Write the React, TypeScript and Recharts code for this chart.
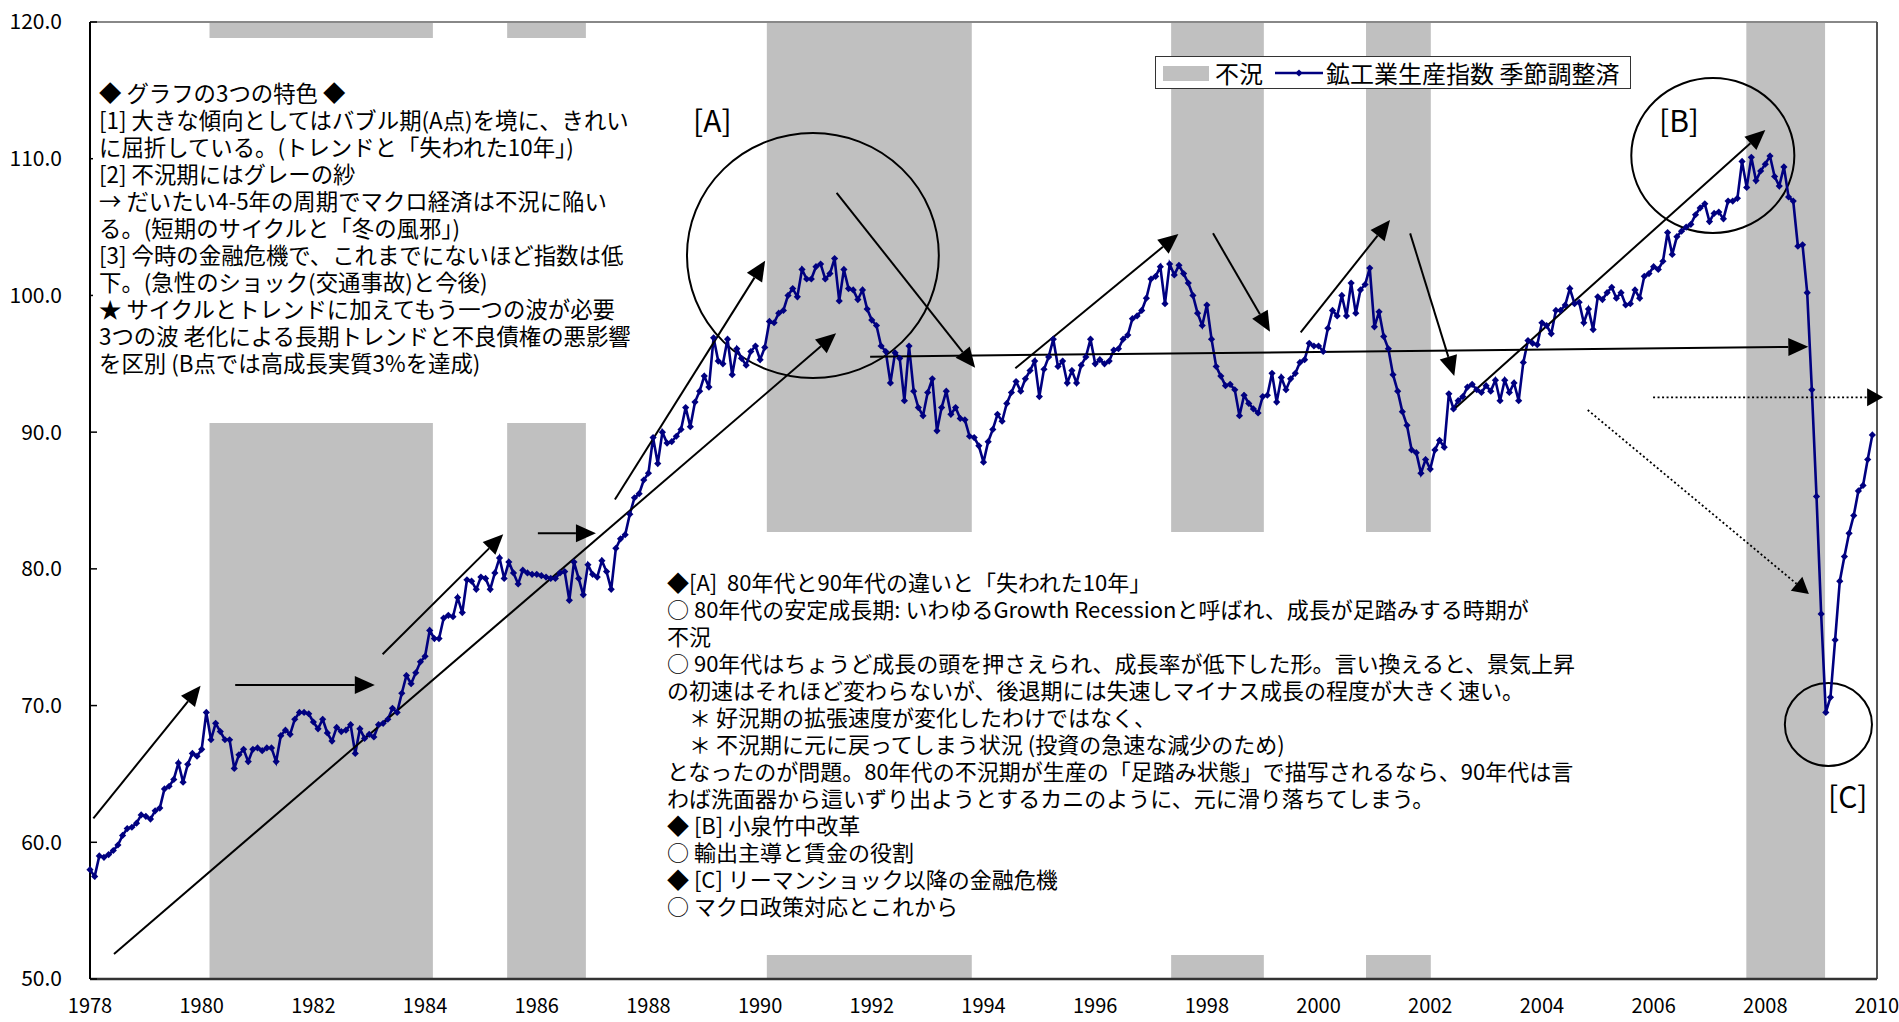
import {
  ComposedChart,
  Line,
  XAxis,
  YAxis,
  ReferenceArea,
  ReferenceLine,
} from "recharts";

// 鉱工業生産指数（季節調整済）monthly, Jan of the first year through Dec of the last
const ip1978_1981 = [
  58.0, 57.5, 59.0, 58.9, 59.1, 59.4, 59.8, 60.5, 61.0, 61.1, 61.4, 62.0,
  61.9, 61.7, 62.3, 62.5, 63.9, 64.1, 64.6, 65.8, 64.4, 65.7, 66.5, 66.3,
  66.8, 69.5, 67.5, 68.7, 68.1, 67.5, 67.5, 65.4, 66.4, 66.8, 65.9, 66.8,
  66.9, 66.7, 66.9, 66.9, 65.9, 67.8, 68.2, 67.9, 69.0, 69.5, 69.5, 69.4,
];
const ip1982_1985 = [
  68.8, 68.3, 69.0, 68.0, 67.4, 68.4, 68.1, 68.2, 68.6, 66.5, 68.3, 67.6,
  67.9, 67.7, 68.6, 68.7, 69.0, 69.8, 69.5, 70.9, 72.2, 71.6, 72.4, 73.2,
  73.6, 75.5, 74.9, 74.9, 76.4, 76.6, 76.5, 77.9, 76.8, 79.2, 79.1, 78.5,
  79.4, 79.3, 78.5, 79.7, 80.8, 79.3, 80.5, 79.7, 78.9, 79.9, 79.7, 79.6,
];
const ip1986_1989 = [
  79.6, 79.5, 79.4, 79.3, 79.3, 79.7, 79.8, 77.7, 80.5, 79.3, 78.1, 80.3,
  79.6, 79.4, 80.6, 79.8, 78.5, 81.5, 82.2, 82.5, 84.0, 85.2, 85.5, 86.5,
  87.0, 89.6, 87.7, 90.0, 89.2, 89.3, 89.7, 90.2, 91.8, 90.4, 92.2, 93.0,
  94.1, 93.3, 96.9, 95.2, 95.0, 96.8, 94.2, 96.1, 95.4, 94.9, 95.9, 96.3,
];
const ip1990_1993 = [
  95.3, 96.2, 98.1, 98.0, 98.7, 98.9, 100.0, 100.5, 99.9, 101.9, 101.2, 101.2,
  102.1, 102.3, 101.2, 101.6, 102.7, 99.6, 101.9, 100.5, 100.4, 99.7, 100.4, 99.0,
  98.2, 97.8, 96.3, 95.9, 93.6, 95.8, 95.4, 92.3, 96.3, 93.0, 91.8, 91.2,
  92.9, 93.9, 90.1, 91.8, 93.0, 91.3, 91.8, 91.0, 90.9, 89.7, 89.6, 89.0,
];
const ip1994_1997 = [
  87.8, 89.3, 90.2, 91.3, 90.8, 92.1, 92.9, 93.7, 93.0, 93.9, 94.5, 95.2,
  92.6, 94.6, 95.5, 96.8, 94.8, 95.2, 93.6, 94.5, 93.6, 94.9, 95.5, 96.8,
  95.0, 95.3, 95.0, 95.2, 96.0, 96.1, 96.8, 97.1, 98.3, 98.5, 98.9, 99.8,
  101.2, 101.4, 102.1, 99.4, 102.3, 101.5, 102.2, 101.6, 100.9, 100.0, 98.7, 97.8,
];
const ip1998_2001 = [
  99.3, 96.8, 94.8, 94.1, 93.4, 93.5, 93.1, 91.2, 92.7, 92.1, 91.7, 91.4,
  92.6, 92.7, 94.3, 92.2, 94.0, 93.1, 93.9, 94.3, 95.1, 95.3, 96.5, 96.3,
  96.3, 95.9, 97.6, 98.9, 98.5, 100.0, 98.5, 100.9, 98.7, 100.4, 100.8, 102.0,
  97.7, 98.8, 97.0, 96.1, 94.2, 93.0, 91.5, 90.5, 88.7, 88.5, 87.0, 88.0,
];
const ip2002_2005 = [
  87.3, 88.7, 89.4, 88.9, 92.8, 91.7, 92.3, 92.6, 93.3, 93.5, 93.1, 92.9,
  93.4, 93.0, 93.8, 92.3, 93.8, 92.9, 93.6, 92.3, 95.1, 96.7, 96.5, 96.4,
  98.0, 97.8, 97.2, 98.9, 98.9, 99.3, 100.5, 99.4, 99.5, 98.0, 99.0, 97.5,
  99.9, 99.7, 100.2, 100.6, 99.8, 100.2, 99.3, 99.4, 100.4, 99.8, 101.4, 101.6,
];
const ip2006_2009 = [
  102.1, 101.9, 102.5, 104.6, 103.0, 104.3, 104.7, 105.0, 105.2, 105.9, 106.4, 106.7,
  105.4, 106.0, 106.1, 105.6, 106.9, 106.9, 107.1, 109.8, 107.9, 110.1, 108.4, 109.1,
  109.6, 110.2, 108.7, 108.0, 109.4, 107.2, 106.9, 103.6, 103.7, 100.2, 93.1, 85.3,
  76.7, 69.5, 70.6, 74.8, 79.1, 80.9, 82.6, 83.9, 85.7, 86.1, 88.0, 89.8,
];

const startYear = 1978;
const yearTicks = [1978, 1980, 1982, 1984, 1986, 1988, 1990, 1992, 1994, 1996, 1998, 2000, 2002, 2004, 2006, 2008, 2010];
const valueTicks = [50, 60, 70, 80, 90, 100, 110, 120];

// 不況期 (start, end) in fractional years
const recessions: [number, number][] = [
  [1980.14, 1984.14],
  [1985.47, 1986.88],
  [1990.12, 1993.79],
  [1997.36, 1999.02],
  [2000.85, 2002.01],
  [2007.66, 2009.07],
];

// annotation arrows: [fromYear, fromValue, toYear, toValue, dotted]
const arrows: [number, number, number, number, boolean][] = [
  [1978.06, 61.75, 1979.98, 71.45, false],
  [1980.6, 71.5, 1983.1, 71.5, false],
  [1983.24, 73.75, 1985.4, 82.53, false],
  [1986.02, 82.6, 1987.06, 82.6, false],
  [1978.43, 51.83, 1991.36, 97.23, false],
  [1987.4, 85.07, 1990.09, 102.54, false],
  [1991.37, 107.51, 1993.85, 94.71, false],
  [1991.97, 95.52, 2008.77, 96.25, false],
  [1994.57, 94.67, 1997.49, 104.49, false],
  [1998.11, 104.54, 1999.13, 97.35, false],
  [1999.68, 97.3, 2001.28, 105.52, false],
  [2001.64, 104.54, 2002.43, 94.11, false],
  [2002.41, 91.62, 2008.0, 112.1, false],
  [2005.99, 92.55, 2010.11, 92.55, true],
  [2004.82, 91.62, 2008.78, 78.16, true],
];

// circled regions [A], [B], [C]: [x1, x2, y1, y2]
const ovals: [number, number, number, number][] = [
  [1988.69, 1993.2, 93.96, 111.88],
  [2005.6, 2008.52, 104.57, 115.9],
  [2008.35, 2009.91, 65.58, 71.65],
];

const series = [
  ...ip1978_1981,
  ...ip1982_1985,
  ...ip1986_1989,
  ...ip1990_1993,
  ...ip1994_1997,
  ...ip1998_2001,
  ...ip2002_2005,
  ...ip2006_2009,
];
const data = series.map((v, i) => ({ t: startYear + i / 12, v }));

const noteLeft = [
  "◆ グラフの3つの特色 ◆",
  "[1] 大きな傾向としてはバブル期(A点)を境に、きれい",
  "に屈折している。(トレンドと「失われた10年」)",
  "[2] 不況期にはグレーの紗",
  "→ だいたい4-5年の周期でマクロ経済は不況に陥い",
  "る。(短期のサイクルと「冬の風邪」)",
  "[3] 今時の金融危機で、これまでにないほど指数は低",
  "下。(急性のショック(交通事故)と今後)",
  "★ サイクルとトレンドに加えてもう一つの波が必要",
  "3つの波 老化による長期トレンドと不良債権の悪影響",
  "を区別 (B点では高成長実質3%を達成)",
];

const noteBottom = [
  "◆[A]  80年代と90年代の違いと「失われた10年」",
  "○ 80年代の安定成長期: いわゆるGrowth Recessionと呼ばれ、成長が足踏みする時期が",
  "不況",
  "○ 90年代はちょうど成長の頭を押さえられ、成長率が低下した形。言い換えると、景気上昇",
  "の初速はそれほど変わらないが、後退期には失速しマイナス成長の程度が大きく速い。",
  "　＊ 好況期の拡張速度が変化したわけではなく、",
  "　＊ 不況期に元に戻ってしまう状況 (投資の急速な減少のため)",
  "となったのが問題。80年代の不況期が生産の「足踏み状態」で描写されるなら、90年代は言",
  "わば洗面器から這いずり出ようとするカニのように、元に滑り落ちてしまう。",
  "◆ [B] 小泉竹中改革",
  "○ 輸出主導と賃金の役割",
  "◆ [C] リーマンショック以降の金融危機",
  "○ マクロ政策対応とこれから",
];

const FONT = '"Noto Sans CJK JP", "Noto Sans", sans-serif';
const NAVY = "#000080";

function Diamond(props: any) {
  const { cx, cy, index } = props;
  if (cx == null || cy == null) return <g key={index} />;
  const s = 3.6;
  return (
    <path
      key={index}
      d={`M${cx},${cy - s}L${cx + s},${cy}L${cx},${cy + s}L${cx - s},${cy}Z`}
      fill={NAVY}
    />
  );
}

function Arrow(props: any) {
  const { x1, y1, x2, y2, dotted } = props;
  const dx = x2 - x1;
  const dy = y2 - y1;
  const len = Math.hypot(dx, dy) || 1;
  const ux = dx / len;
  const uy = dy / len;
  const hl = dotted ? 16 : 20;
  const hw = 9;
  const bx = x2 - ux * hl;
  const by = y2 - uy * hl;
  const pts = `${x2},${y2} ${bx - uy * hw},${by + ux * hw} ${bx + uy * hw},${by - ux * hw}`;
  return (
    <g>
      <line
        x1={x1}
        y1={y1}
        x2={bx}
        y2={by}
        stroke="#000"
        strokeWidth={dotted ? 1.8 : 2}
        strokeDasharray={dotted ? "2 2.5" : undefined}
      />
      <polygon points={pts} fill="#000" />
    </g>
  );
}

function Oval(props: any) {
  const { x, y, width, height } = props;
  return (
    <ellipse
      cx={x + width / 2}
      cy={y + height / 2}
      rx={Math.abs(width / 2)}
      ry={Math.abs(height / 2)}
      fill="none"
      stroke="#000"
      strokeWidth={2}
    />
  );
}

const textLine: React.CSSProperties = {
  whiteSpace: "pre",
  height: 27,
  lineHeight: "27px",
};

export default function App() {
  return (
    <div style={{ position: "absolute", left: 0, top: 0, width: 1899, height: 1022, background: "#fff", fontFamily: FONT }}>
      <ComposedChart width={1899} height={1022} data={data} margin={{ top: 22, right: 22, bottom: 0, left: 0 }}>
        <XAxis
          dataKey="t"
          type="number"
          domain={[1978, 2010]}
          ticks={yearTicks}
          interval={0}
          height={43}
          tickLine={false}
          tickSize={6}
          tickMargin={14}
          axisLine={{ stroke: "#333", strokeWidth: 2.5 }}
          tick={{ fill: "#000", fontSize: 20, fontFamily: FONT }}
        />
        <YAxis
          type="number"
          domain={[50, 120]}
          ticks={valueTicks}
          interval={0}
          width={90}
          tickSize={-7}
          tickMargin={35}
          tickFormatter={(v: number) => v.toFixed(1)}
          tickLine={{ stroke: "#000", strokeWidth: 1.5 }}
          axisLine={{ stroke: "#000", strokeWidth: 2 }}
          tick={{ fill: "#000", fontSize: 21, fontFamily: FONT }}
        />
        {recessions.map(([a, b], i) => (
          <ReferenceArea key={`r${i}`} x1={a} x2={b} fill="#C0C0C0" fillOpacity={1} stroke="none" />
        ))}
        <ReferenceLine y={120} stroke="#888" strokeWidth={2} />
        <ReferenceLine x={2010} stroke="#555" strokeWidth={2} />
        <Line
          dataKey="v"
          stroke={NAVY}
          strokeWidth={2.6}
          dot={(p: any) => <Diamond {...p} key={p.index} />}
          activeDot={false}
          isAnimationActive={false}
        />
        {ovals.map(([x1, x2, y1, y2], i) => (
          <ReferenceArea
            key={`o${i}`}
            x1={x1}
            x2={x2}
            y1={y1}
            y2={y2}
            ifOverflow="visible"
            shape={(p: any) => <Oval {...p} />}
          />
        ))}
        {arrows.map(([ax, ay, bx, by, dotted], i) => (
          <ReferenceLine
            key={`a${i}`}
            segment={[
              { x: ax, y: ay },
              { x: bx, y: by },
            ]}
            ifOverflow="visible"
            shape={(p: any) => <Arrow {...p} dotted={dotted} />}
          />
        ))}
      </ComposedChart>

      {/* note box, upper left */}
      <div style={{ position: "absolute", left: 93, top: 38, width: 558, height: 385, background: "#fff" }}>
        <div style={{ position: "absolute", left: 6, top: 41, fontSize: 22.4, color: "#000" }}>
          {noteLeft.map((s, i) => (
            <div key={i} style={textLine}>{s}</div>
          ))}
        </div>
      </div>

      {/* note box, lower middle */}
      <div style={{ position: "absolute", left: 655, top: 532, width: 930, height: 423, background: "#fff" }}>
        <div style={{ position: "absolute", left: 12, top: 36, fontSize: 22, color: "#000" }}>
          {noteBottom.map((s, i) => (
            <div key={i} style={textLine}>{s}</div>
          ))}
        </div>
      </div>

      {/* legend */}
      <div
        style={{
          position: "absolute",
          left: 1155,
          top: 56,
          width: 474,
          height: 31,
          border: "1px solid #333",
          background: "#fff",
          fontSize: 24,
          lineHeight: "31px",
          color: "#000",
        }}
      >
        <div style={{ position: "absolute", left: 7, top: 9, width: 46, height: 15, background: "#C0C0C0" }} />
        <div style={{ position: "absolute", left: 59, top: 0 }}>不況</div>
        <svg style={{ position: "absolute", left: 118, top: 8 }} width={50} height={16}>
          <line x1={1} y1={8} x2={49} y2={8} stroke={NAVY} strokeWidth={2.5} />
          <path d="M25,4.4L28.6,8L25,11.6L21.4,8Z" fill={NAVY} />
        </svg>
        <div style={{ position: "absolute", left: 170, top: 0, whiteSpace: "pre" }}>鉱工業生産指数 季節調整済</div>
      </div>

      {/* circle labels */}
      <div style={{ position: "absolute", left: 693, top: 100, fontSize: 30, lineHeight: "38px" }}>[A]</div>
      <div style={{ position: "absolute", left: 1659, top: 100, fontSize: 30, lineHeight: "38px" }}>[B]</div>
      <div style={{ position: "absolute", left: 1828, top: 776, fontSize: 30, lineHeight: "38px" }}>[C]</div>
    </div>
  );
}
